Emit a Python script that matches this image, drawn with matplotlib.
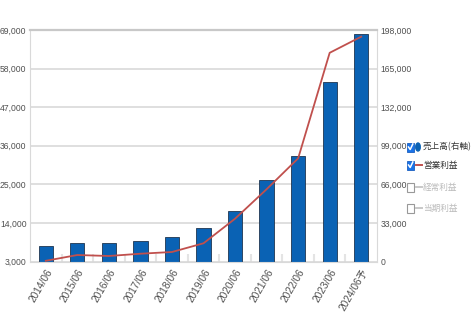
import matplotlib.pyplot as plt
from matplotlib.patches import Rectangle, Ellipse
from matplotlib.lines import Line2D

plt.rcParams['font.family'] = ['Liberation Sans', 'Noto Sans CJK JP', 'DejaVu Sans']

# fiscal periods (the last one is a forecast)
periods = ["2014/06", "2015/06", "2016/06", "2017/06", "2018/06", "2019/06",
           "2020/06", "2021/06", "2022/06", "2023/06", "2024/06予"]
# net sales, plotted against the right axis
sales = [13500, 15600, 15500, 17500, 21200, 28900, 43200, 69700, 90200, 153300, 194800]
# operating profit, plotted against the left axis
op_profit = [3200, 4850, 4570, 5220, 5710, 8190, 15200, 23600, 32400, 62500, 67100]

left_ticks = [3000, 14000, 25000, 36000, 47000, 58000, 69000]
right_ticks = [0, 33000, 66000, 99000, 132000, 165000, 198000]

bar_color = "#0a62b4"
line_color = "#c0504d"
label_color = "#505050"
grid_color = "#d9d9d9"

fig = plt.figure(figsize=(4.71, 3.25), dpi=100)
ax = fig.add_axes([30 / 471, 1 - 261.5 / 325, 347 / 471, 231.5 / 325])
x = list(range(len(periods)))

# bars on the right-hand scale
ax.bar(x, sales, width=0.45, color=bar_color, edgecolor="#1f3550", linewidth=0.6, zorder=2)
ax.set_ylim(0, 198000)
ax.set_xlim(-0.5, len(periods) - 0.5)
ax.set_yticks(right_ticks)
ax.set_yticklabels([f"{v:,}" for v in right_ticks])
ax.set_axisbelow(True)
ax.grid(axis="y", color=grid_color, linewidth=1.2)

# line on the left-hand scale
ax2 = ax.twinx()
ax2.plot(x, op_profit, color=line_color, linewidth=1.3, zorder=3)
ax2.set_ylim(3000, 69000)
ax2.set_yticks(left_ticks)
ax2.set_yticklabels([f"{v:,}" for v in left_ticks])

# twinx resets the sides, so swap them afterwards
ax.yaxis.tick_right()
ax2.yaxis.tick_left()

for a in (ax, ax2):
    for s in a.spines.values():
        s.set_visible(False)
    a.tick_params(axis="y", length=0, labelsize=6.2, labelcolor=label_color, pad=2.5)

ax.spines["top"].set_visible(True)
ax.spines["top"].set_color("#c8c8c8")
ax.spines["top"].set_linewidth(1.6)
ax.spines["left"].set_visible(True)
ax.spines["left"].set_color(grid_color)
ax.spines["right"].set_visible(True)
ax.spines["right"].set_color(grid_color)
ax.spines["bottom"].set_visible(True)
ax.spines["bottom"].set_color(grid_color)

# category labels plus small divider ticks between the periods
ax.set_xticks(x)
ax.set_xticklabels(periods, rotation=60, ha="right", rotation_mode="anchor")
ax.tick_params(axis="x", length=0, labelsize=7.3, labelcolor=label_color, pad=4)
ax.set_xticks([i + 0.5 for i in x[:-1]], minor=True)
ax.tick_params(axis="x", which="minor", direction="in", length=6, width=1.5, color="#e4e4e4")

# legend with checkboxes, drawn in pixel coordinates
lg = fig.add_axes([0, 0, 1, 1])
lg.set_xlim(0, 471)
lg.set_ylim(325, 0)
lg.axis("off")

rows = [
    ("売上高(右軸)", True, "circle", bar_color, "#333333", 147),
    ("営業利益", True, "line", line_color, "#333333", 165),
    ("経常利益", False, "line", "#c8c8c8", "#bbbbbb", 187),
    ("当期利益", False, "line", "#c8c8c8", "#bbbbbb", 208),
]
for text, checked, kind, mcolor, tcolor, y in rows:
    if checked:
        lg.add_patch(Rectangle((407, y - 4.5), 7, 9, facecolor="#1a73e8", edgecolor="#1a5fc0", linewidth=0.6))
        lg.add_line(Line2D([408.5, 410.2, 412.8], [y, y + 2.5, y - 3], color="white", linewidth=1.1))
    else:
        lg.add_patch(Rectangle((407, y - 4.5), 7, 9, facecolor="white", edgecolor="#999999", linewidth=0.8))
    if kind == "circle":
        lg.add_patch(Ellipse((418, y), 4.5, 8, color=mcolor))
    else:
        lg.add_line(Line2D([415.5, 421.5], [y, y], color=mcolor, linewidth=1.4))
    lg.text(423, y, text, fontsize=6.2, color=tcolor, va="center", ha="left",
            family=["Noto Sans CJK JP", "DejaVu Sans"])

fig.savefig("out.png", dpi=100)
